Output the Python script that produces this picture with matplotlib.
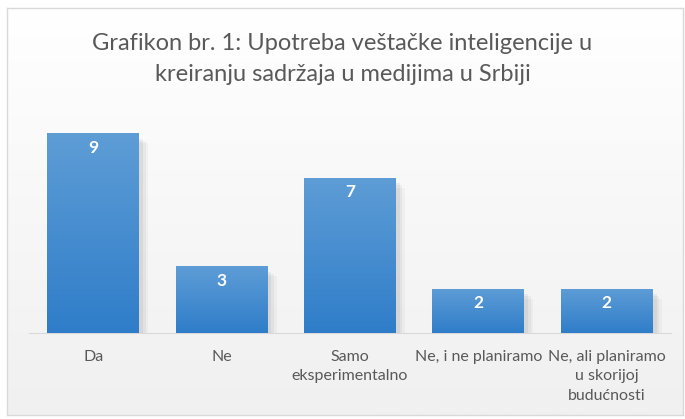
import matplotlib
matplotlib.use("Agg")
import matplotlib.pyplot as plt
import numpy as np
from matplotlib.patches import Rectangle
from matplotlib.colors import LinearSegmentedColormap

categories = ["Da", "Ne", "Samo\neksperimentalno", "Ne, i ne planiramo", "Ne, ali planiramo\nu skorijoj\nbudućnosti"]
values = [9, 3, 7, 2, 2]
title = "Grafikon br. 1: Upotreba veštačke inteligencije u\nkreiranju sadržaja u medijima u Srbiji"

plt.rcParams['font.family'] = ['Lato', 'DejaVu Sans']
W, H = 685, 419
fig = plt.figure(figsize=(W/100, H/100), dpi=100)

# background gradient + border
bg = fig.add_axes([7/W, 1-415/H, (683-7)/W, (415-8)/H])
grad = np.linspace(1.0, 0.0, 256).reshape(-1, 1)
bgcm = LinearSegmentedColormap.from_list("bg", ["#ffffff", "#f0f0f0"])
bg.imshow(grad, aspect="auto", cmap=bgcm, extent=[0, 1, 0, 1], origin="lower")
bg.set_xlim(0, 1); bg.set_ylim(0, 1)
bg.set_xticks([]); bg.set_yticks([])
for s in bg.spines.values():
    s.set_color("#d9d9d9"); s.set_linewidth(1)

ax = fig.add_axes([29/W, 1-333/H, (671-29)/W, (333-111)/H])
ax.patch.set_alpha(0)
x = np.arange(len(categories))
width = 0.716
barcm = LinearSegmentedColormap.from_list("bar", ["#2F7DC9", "#5E9DD6"])
# soft shadows
for xi, v in zip(x, values):
    for k, a in enumerate([0.05, 0.04, 0.03]):
        sh = Rectangle((xi - width/2 + 0.03 + 0.02*k, 0), width, v - 0.25 - 0.1*k,
                       facecolor="#000000", alpha=a, linewidth=0, zorder=1)
        ax.add_patch(sh)
bars = ax.bar(x, values, width=width, color="#4A8ED0", zorder=2)
for b, v in zip(bars, values):
    im = ax.imshow(np.linspace(0, 1, 256).reshape(-1, 1), aspect="auto", cmap=barcm,
                   extent=[b.get_x(), b.get_x()+b.get_width(), 0, v], origin="lower", zorder=3)
    im.set_clip_path(b)
    ax.text(b.get_x()+b.get_width()/2, v - 0.3, str(v), ha="center", va="top",
            color="white", fontsize=12.5, fontweight="bold", zorder=4)

ax.set_xlim(-0.5, len(categories)-0.5)
ax.set_ylim(0, 10)
ax.set_yticks([])
ax.set_xticks(x)
ax.set_xticklabels(categories, color="#595959", fontsize=11.5, linespacing=1.5)
ax.tick_params(axis="x", length=0, pad=12)
for s in ["top", "right", "left"]:
    ax.spines[s].set_visible(False)
ax.spines["bottom"].set_color("#d9d9d9")

fig.text(0.5, 1-59/H, title, ha="center", va="center", fontsize=17, color="#595959", linespacing=1.55)

fig.savefig("out.png", dpi=100)
